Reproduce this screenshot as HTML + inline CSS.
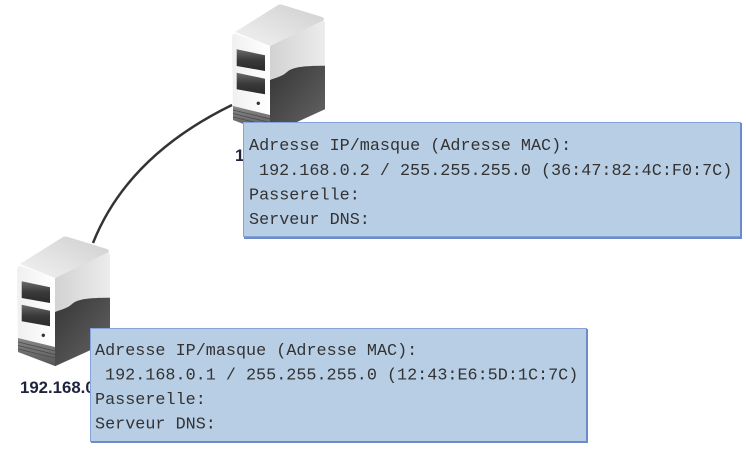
<!DOCTYPE html>
<html><head><meta charset="utf-8"><style>
html,body{margin:0;padding:0;background:#fff;}
svg{display:block;}
.m{font-family:"Liberation Mono","Courier New",monospace;font-size:16.8px;fill:#333;}
.l{font-family:"Liberation Sans",Arial,sans-serif;font-size:16.8px;font-weight:bold;fill:#1e2340;}
</style></head><body>
<svg width="746" height="451" viewBox="0 0 746 451" xmlns="http://www.w3.org/2000/svg">
<defs>
<linearGradient id="front" x1="0" y1="0" x2="1" y2="0"><stop offset="0" stop-color="#f0f0f0"/><stop offset="1" stop-color="#ffffff"/></linearGradient>
<linearGradient id="side" x1="0" y1="0" x2="1" y2="0"><stop offset="0" stop-color="#d2d2d2"/><stop offset="1" stop-color="#ececec"/></linearGradient>
<linearGradient id="top" x1="0" y1="1" x2="1" y2="0"><stop offset="0" stop-color="#f2f2f2"/><stop offset="1" stop-color="#cfcfcf"/></linearGradient>
<linearGradient id="dark" x1="0" y1="0" x2="1" y2="1"><stop offset="0" stop-color="#363636"/><stop offset="1" stop-color="#666"/></linearGradient>
<linearGradient id="slot" x1="0" y1="0" x2="0" y2="1"><stop offset="0" stop-color="#6b6b6b"/><stop offset="0.5" stop-color="#3a3a3a"/><stop offset="1" stop-color="#2a2a2a"/></linearGradient>
<linearGradient id="band" x1="0" y1="0" x2="0" y2="1"><stop offset="0" stop-color="#888"/><stop offset="1" stop-color="#555"/></linearGradient>
<g id="srv">
  <path d="M55,278 L106,253 Q110,251 110,256 L110,341 L55,366 Z" fill="url(#side)"/>
  <path d="M55,312 C63.3,309 68.3,307.7 71.7,304.3 C76.7,299.3 86.7,297.7 110,297.7 L110,341.3 L55,366.3 Z" fill="url(#dark)"/>
  <path d="M20,264 L63,237 Q65,236 68,237 L107,249 Q111,251 107,253 L55,278 Z" fill="url(#top)"/>
  <path d="M17,270 Q17,265 21,266 L55,278 L55,366 L18,352 Z" fill="url(#front)"/>
  <path d="M18,338 L55,347 L55,366 L18,352 Z" fill="url(#band)"/>
  <path d="M18,342 L55,351 M18,345.5 L55,354.5 M18,349 L55,358" stroke="#4a4a4a" stroke-width="0.8" fill="none"/>
  <path d="M21.7,281.3 L50,287.3 L50,303 L21.7,298 Z" fill="url(#slot)"/>
  <path d="M21.7,304.7 L50,310.7 L50,326.3 L21.7,321.3 Z" fill="url(#slot)"/>
  <circle cx="43.3" cy="335.3" r="1.7" fill="#333"/>
</g>
</defs>
<path d="M93,243 Q127.5,156 232,105" stroke="#333" stroke-width="2.5" fill="none"/>
<use href="#srv"/>
<use href="#srv" transform="translate(215,-232)"/>
<text class="l" x="20" y="393">192.168.0.1</text>
<text class="l" x="235" y="161">192.168.0.2</text>

<rect x="243.5" y="122.5" width="497" height="114" fill="#b8cee5" stroke="#86a2d8" stroke-width="1"/>
<path d="M741,123 L741,238 L244,238" stroke="#6d8bcb" stroke-width="2" fill="none"/>
<text class="m" x="249" y="150">Adresse IP/masque (Adresse MAC):</text>
<text class="m" x="259" y="175">192.168.0.2 / 255.255.255.0 (36:47:82:4C:F0:7C)</text>
<text class="m" x="249" y="199.5">Passerelle:</text>
<text class="m" x="249" y="224">Serveur DNS:</text>

<rect x="90.5" y="328.5" width="496" height="113" fill="#b8cee5" stroke="#86a2d8" stroke-width="1"/>
<path d="M587,329 L587,442 L91,442" stroke="#6d8bcb" stroke-width="2" fill="none"/>
<text class="m" x="95" y="355">Adresse IP/masque (Adresse MAC):</text>
<text class="m" x="105" y="379.5">192.168.0.1 / 255.255.255.0 (12:43:E6:5D:1C:7C)</text>
<text class="m" x="95" y="404">Passerelle:</text>
<text class="m" x="95" y="428.5">Serveur DNS:</text>
</svg>
</body></html>
